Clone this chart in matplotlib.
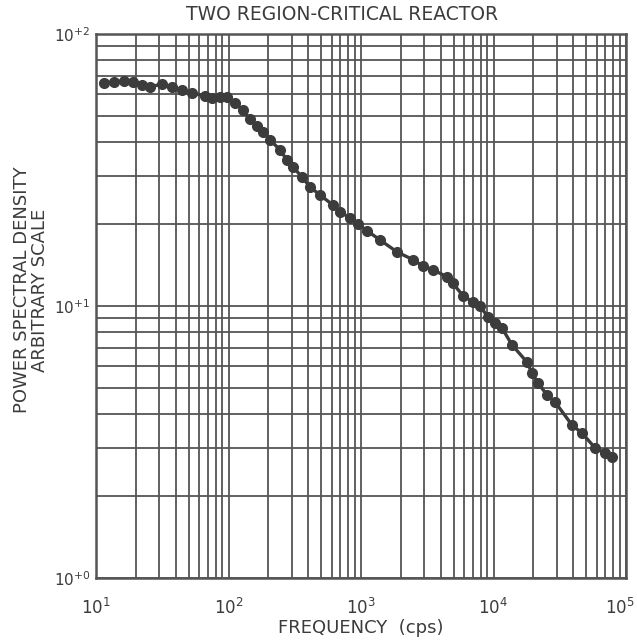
import matplotlib
matplotlib.use("Agg")
import matplotlib.pyplot as plt
import matplotlib.transforms as mtransforms
from matplotlib.ticker import LogLocator, NullFormatter, FixedLocator

# Data (frequency in cps, arbitrary PSD units)
frequency = [11.5, 13.7, 16.3, 19.0, 22.2, 25.6, 31.5, 37.5, 44.6, 53.0,
             66.5, 75.1, 86.3, 97.4, 112, 128.6, 145.3, 164, 182, 205.6,
             245, 276, 307, 359, 412, 490, 615, 694, 826, 949,
             1110, 1390, 1870, 2470, 2940, 3490, 4460, 4950, 5890, 7000,
             7910, 9080, 10260, 11590, 13800, 17900, 19530, 21670, 25350, 29110,
             39130, 46560, 58350, 69430, 78340]
psd = [66.1, 66.6, 67.2, 66.6, 64.9, 63.9, 65.5, 63.9, 62.3, 60.7,
       59.2, 58.2, 58.7, 58.7, 55.8, 52.5, 48.7, 45.9, 43.6, 40.8,
       37.5, 34.4, 32.4, 29.8, 27.4, 25.6, 23.5, 22.2, 21.1, 20.0,
       18.9, 17.5, 15.8, 14.8, 14.0, 13.6, 12.8, 12.1, 10.9, 10.35,
       10.0, 9.11, 8.66, 8.30, 7.19, 6.22, 5.67, 5.21, 4.71, 4.44,
       3.65, 3.41, 3.01, 2.88, 2.79]

x_ticks = [1e1, 1e2, 1e3, 1e4, 1e5]
x_tick_labels = [r"$10^{1}$", r"$10^{2}$", r"$10^{3}$", r"$10^{4}$", r"$10^{5}$"]
y_ticks = [1e0, 1e1, 1e2]
y_tick_labels = [r"$10^{+0}$", r"$10^{+1}$", r"$10^{+2}$"]

title = "TWO REGION-CRITICAL REACTOR"
xlabel = "FREQUENCY  (cps)"
ylabel = "POWER SPECTRAL DENSITY\nARBITRARY SCALE"

ink = "#3c3c3c"
gridc = "#555555"

plt.rcParams["font.family"] = ["DejaVu Sans"]
plt.rcParams["mathtext.fontset"] = "dejavusans"

fig = plt.figure(figsize=(6.37, 6.41), dpi=100)
ax = fig.add_axes([96/637, 1-578/641, 530/637, 544/641])
ax.set_xscale("log")
ax.set_yscale("log")
ax.set_xlim(1e1, 1e5)
ax.set_ylim(1e0, 1e2)

ax.xaxis.set_major_locator(FixedLocator(x_ticks))
ax.yaxis.set_major_locator(FixedLocator(y_ticks))
ax.xaxis.set_minor_locator(LogLocator(base=10, subs=range(2, 10), numticks=20))
ax.yaxis.set_minor_locator(LogLocator(base=10, subs=range(2, 10), numticks=20))
ax.xaxis.set_minor_formatter(NullFormatter())
ax.yaxis.set_minor_formatter(NullFormatter())
ax.set_xticklabels(x_tick_labels)
ax.set_yticklabels(y_tick_labels)

ax.grid(True, which="both", color=gridc, linewidth=1.3)
ax.tick_params(which="both", length=0)
ax.tick_params(axis="x", pad=14, labelsize=12, labelcolor=ink)
ax.tick_params(axis="y", pad=4, labelsize=11, labelcolor=ink)
for s in ax.spines.values():
    s.set_color(gridc)
    s.set_linewidth(1.8)

# nudge the last x tick label so it stays inside the canvas
last = ax.get_xticklabels()[-1]
last.set_transform(last.get_transform() +
                   mtransforms.ScaledTranslation(-6/100, 0, fig.dpi_scale_trans))

ax.plot(frequency, psd, color=ink, linewidth=2.4, marker="o",
        markersize=7, markerfacecolor=ink, markeredgecolor=ink, zorder=3)

fig.text(0.537, 1-15/641, title, ha="center", va="center", fontsize=13.5, color=ink)
fig.text(0.567, 1-628/641, xlabel, ha="center", va="center", fontsize=13, color=ink)
fig.text(0.048, 1-290/641, ylabel, ha="center", va="center", rotation=90,
         fontsize=13, color=ink, linespacing=1.0)

fig.savefig("out.png", dpi=100, facecolor="white")
